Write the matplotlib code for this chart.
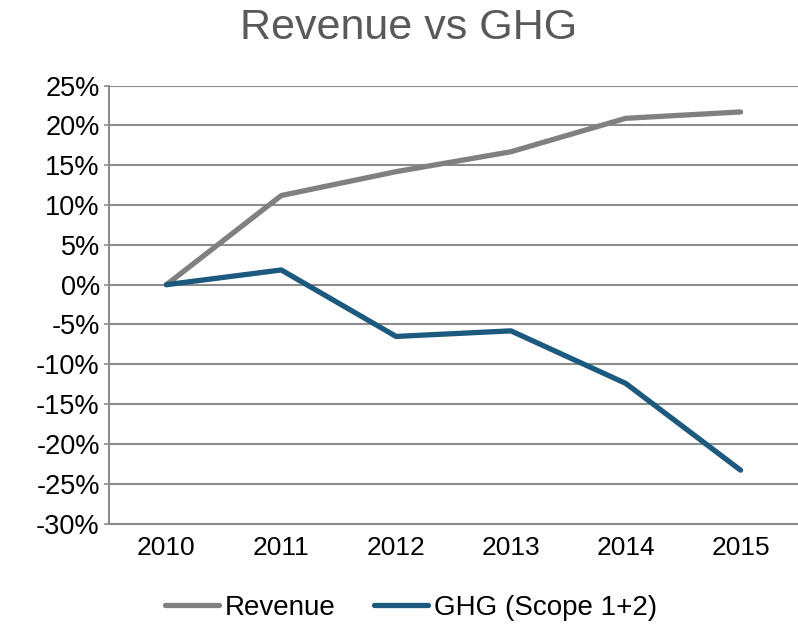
import matplotlib.pyplot as plt
from matplotlib.ticker import PercentFormatter

plt.rcParams['font.family'] = ['Liberation Sans', 'DejaVu Sans']
plt.rcParams['axes.unicode_minus'] = False

years = ['2010', '2011', '2012', '2013', '2014', '2015']
revenue = [0.0, 11.2, 14.2, 16.7, 20.9, 21.7]
ghg = [0.0, 1.85, -6.5, -5.8, -12.4, -23.3]
yticks = [-30, -25, -20, -15, -10, -5, 0, 5, 10, 15, 20, 25]

fig = plt.figure(figsize=(7.98, 6.29), dpi=100)
ax = fig.add_axes([0.1366, 0.1677, 0.8634, 0.6961])

x = range(len(years))
ax.plot(x, revenue, color='#808080', linewidth=3.8, solid_capstyle='round', label='Revenue', zorder=3)
ax.plot(x, ghg, color='#1b5a7e', linewidth=3.8, solid_capstyle='round', label='GHG (Scope 1+2)', zorder=3)

ax.set_xlim(-0.5, 5.5)
ax.set_ylim(-30, 25)
ax.set_yticks(yticks)
ax.yaxis.set_major_formatter(PercentFormatter(decimals=0))
ax.set_xticks(list(x))
ax.set_xticklabels(years)

# grid + spines like the excel look
ax.grid(axis='y', color='#8c8c8c', linewidth=1.5, zorder=1)
ax.set_axisbelow(True)
for s in ['top', 'right']:
    ax.spines[s].set_visible(False)
ax.spines['left'].set_color('#8c8c8c')
ax.spines['left'].set_linewidth(1.5)
ax.spines['bottom'].set_color('#8c8c8c')
ax.spines['bottom'].set_linewidth(1.5)

ax.tick_params(axis='y', length=3.6, width=1.2, color='#8c8c8c', pad=3, labelsize=19.5, labelcolor='black')
ax.tick_params(axis='x', length=0, pad=9, labelsize=19, labelcolor='black')

fig.text(409 / 798, 1 - 28 / 629, 'Revenue vs GHG', ha='center', va='center',
         fontsize=31, color='#595959')

fig.legend(loc='center', bbox_to_anchor=(411 / 798, 1 - 608 / 629), ncol=2, frameon=False,
           fontsize=20, handlelength=1.95, handletextpad=0.2, columnspacing=1.4)

fig.savefig('out.png', dpi=100)
